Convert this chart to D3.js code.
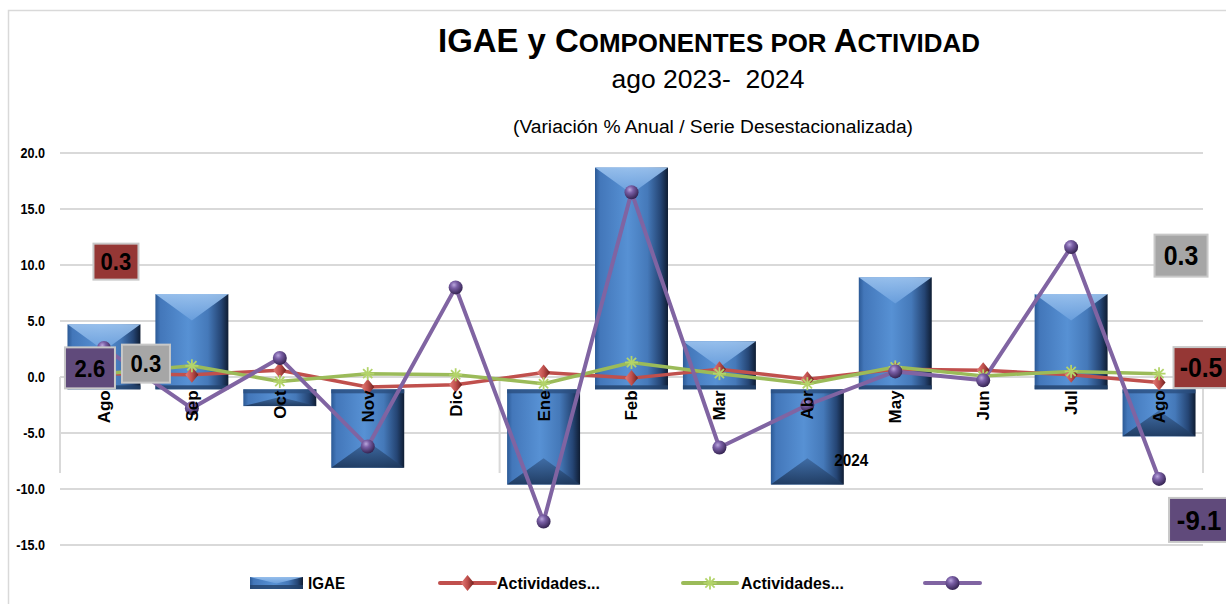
<!DOCTYPE html>
<html><head><meta charset="utf-8">
<script src="https://cdn.jsdelivr.net/npm/d3@7"></script>
<style>html,body{margin:0;padding:0;background:#fff;} svg{display:block;}</style>
</head><body><svg id="chart" width="1226" height="604"></svg>
<script>
// ---------------- DATA ----------------
const categories = ["Ago","Sep","Oct","Nov","Dic","Ene","Feb","Mar","Abr","May","Jun","Jul","Ago"];
const yearGroups = ["2023","2023","2023","2023","2023","2024","2024","2024","2024","2024","2024","2024","2024"];
const igae        = [4.7, 7.4, -2.6, -8.1, -1.1, -9.6, 18.7, 3.2, -9.6, 8.9, -1.1, 7.4, -5.3];
const actRed      = [0.3, 0.2, 0.6, -0.9, -0.7, 0.4, -0.1, 0.7, -0.2, 0.7, 0.6, 0.2, -0.5];
const actGreen    = [0.3, 1.0, -0.4, 0.3, 0.2, -0.6, 1.3, 0.3, -0.6, 0.9, 0.1, 0.5, 0.3];
const actPurple   = [2.6, -2.8, 1.7, -6.2, 8.0, -12.9, 16.5, -6.3, -2.5, 0.5, -0.3, 11.6, -9.1];
const yTicks      = [20, 15, 10, 5, 0, -5, -10, -15];
const axisCross   = -1.1;   // value where the category axis crosses
const legendNames = ["IGAE", "Actividades...", "Actividades...", ""];
const titleText   = "IGAE y Componentes por Actividad";
const subtitleText = "ago 2023-  2024";
const noteText    = "(Variación % Anual / Serie Desestacionalizada)";

// ---------------- SETUP ----------------
const FONT = "'Liberation Sans Narrow','Arial Narrow','Liberation Sans',sans-serif";
const svg = d3.select("#chart");
const defs = svg.append("defs");
const fmt = d3.formatLocale({decimal:".", thousands:",", grouping:[3], currency:["$",""], minus:"-"}).format(".1f");
function narrow(sel, f){
  sel.each(function(){
    const L = this.getComputedTextLength();
    if (L > 0) d3.select(this).attr("textLength", L*f).attr("lengthAdjust","spacingAndGlyphs");
  });
}

function linGrad(id, x2, y2, stops){
  const g = defs.append("linearGradient").attr("id", id).attr("x1",0).attr("y1",0).attr("x2",x2).attr("y2",y2);
  stops.forEach(s => g.append("stop").attr("offset", s[0]).attr("stop-color", s[1]));
}
linGrad("barBody", 1, 0, [[0,"#2c5a96"],[0.07,"#4377ba"],[0.45,"#5791d4"],[0.72,"#4579b9"],[0.9,"#254574"],[1,"#0f1d33"]]);
linGrad("barTop", 0, 1, [[0,"#9cc3ee"],[1,"#6a9fdd"]]);
linGrad("barBot", 0, 1, [[0,"#3e6aa2"],[1,"#1d375b"]]);
linGrad("diam", 1, 0, [[0,"#e47c77"],[0.5,"#c0504d"],[1,"#6e1f1d"]]);
const rg = defs.append("radialGradient").attr("id","sphere").attr("cx","0.38").attr("cy","0.32").attr("r","0.7");
[[0,"#b9a6dc"],[0.35,"#7a5fa6"],[1,"#33224f"]].forEach(s => rg.append("stop").attr("offset", s[0]).attr("stop-color", s[1]));

// chart border
svg.append("path").attr("d","M8.5,604 V10.5 H1226").attr("fill","none").attr("stroke","#d9d9d9").attr("stroke-width",1.5);

// ---------------- TITLES ----------------
const tt = svg.append("text").attr("x",709).attr("y",52).attr("text-anchor","middle")
  .attr("font-family",FONT).attr("font-weight","bold").attr("fill","#000")
  .attr("textLength",542).attr("lengthAdjust","spacingAndGlyphs");
// small caps rendering: capitals large, lowercase as smaller capitals
titleText.split(" ").forEach((w, wi, arr) => {
  const word = w + (wi < arr.length-1 ? " " : "");
  if (w === "IGAE" || w === "y") { tt.append("tspan").attr("font-size",33).text(word); return; }
  Array.from(word).forEach(ch => {
    const isUp = ch !== ch.toLowerCase();
    tt.append("tspan").attr("font-size", isUp ? 33 : 26).text(ch.toUpperCase());
  });
});
svg.append("text").attr("x",708).attr("y",88).attr("text-anchor","middle").style("white-space","pre")
  .attr("font-family",FONT).attr("font-size",25).attr("fill","#000")
  .attr("textLength",193).attr("lengthAdjust","spacingAndGlyphs").text(subtitleText);
svg.append("text").attr("x",713).attr("y",133).attr("text-anchor","middle")
  .attr("font-family",FONT).attr("font-size",18).attr("fill","#000")
  .attr("textLength",400).attr("lengthAdjust","spacingAndGlyphs").text(noteText);

// ---------------- SCALES ----------------
const x = d3.scaleBand().domain(d3.range(categories.length)).range([60,1203]).paddingInner(0.17).paddingOuter(0.085);
const y = d3.scaleLinear().domain([-15,20]).range([545,153]);
const cx = i => x(i) + x.bandwidth()/2;
const step = x.step();

// gridlines
svg.append("g").selectAll("line").data(yTicks).join("line")
  .attr("x1",60).attr("x2",1203).attr("y1",d=>y(d)).attr("y2",d=>y(d))
  .attr("stroke","#d9d9d9").attr("stroke-width",2);

// y axis labels
const ya = svg.append("g").attr("transform","translate(60,0)")
  .call(d3.axisLeft(y).tickValues(yTicks).tickFormat(fmt).tickSize(0).tickPadding(15));
ya.select(".domain").remove();
ya.selectAll("text").attr("font-family",FONT).attr("font-weight","bold").attr("font-size",15).attr("fill","#000");
narrow(ya.selectAll("text"), 0.84);

// year group dividers
const groupStarts = [0];
yearGroups.forEach((g,i)=>{ if(i>0 && g!==yearGroups[i-1]) groupStarts.push(i); });
groupStarts.push(categories.length);
svg.append("g").selectAll("line").data(groupStarts).join("line")
  .attr("x1",d=>60+d*step).attr("x2",d=>60+d*step).attr("y1",y(0)).attr("y2",473)
  .attr("stroke","#d9d9d9").attr("stroke-width",2);

// ---------------- BARS ----------------
const gb = svg.append("g");
const bw = x.bandwidth();
function drawBar(g, x0, top, w, h, positive){
  const x1 = x0 + w, bot = top + h;
  g.append("rect").attr("x",x0).attr("y",top).attr("width",w).attr("height",h).attr("fill","url(#barBody)");
  const d = Math.min(w*0.36, h*0.55);
  if (positive){
    g.append("path").attr("d",`M${x0},${top}L${x1},${top}L${x0+w/2},${top+d}Z`).attr("fill","url(#barTop)").attr("opacity",0.92);
    g.append("rect").attr("x",x0).attr("y",bot-Math.min(4,h/3)).attr("width",w).attr("height",Math.min(4,h/3)).attr("fill","#23426c").attr("opacity",0.8);
  } else {
    g.append("path").attr("d",`M${x0},${bot}L${x1},${bot}L${x0+w/2},${bot-d}Z`).attr("fill","url(#barBot)").attr("opacity",0.92);
    g.append("rect").attr("x",x0).attr("y",top).attr("width",w).attr("height",Math.min(4,h/3)).attr("fill","#2a4f80").attr("opacity",0.8);
  }
}
igae.forEach((v,i)=>{
  const y0 = y(v), yb = y(axisCross);
  const top = Math.min(y0,yb), h = Math.abs(y0-yb);
  if (h < 0.5) return;
  drawBar(gb, x(i), top, bw, h, v > axisCross);
});

// ---------------- LINES ----------------
const series = [
  {vals: actRed, color:"#c0504d", marker:"diamond", sw:3.5},
  {vals: actGreen, color:"#9bbb59", marker:"star", sw:3.5},
  {vals: actPurple, color:"#8064a2", marker:"sphere", sw:4}
];
const line = d3.line().x((d,i)=>cx(i)).y(d=>y(d));
series.forEach(s=>{
  svg.append("path").attr("d", line(s.vals)).attr("fill","none").attr("stroke",s.color)
    .attr("stroke-width",s.sw).attr("stroke-linejoin","round").attr("stroke-linecap","round");
});
function drawMarker(g, type, px, py){
  if (type==="diamond"){
    g.append("path").attr("d",`M${px},${py-8}L${px+6.5},${py}L${px},${py+8}L${px-6.5},${py}Z`).attr("fill","url(#diam)");
  } else if (type==="star"){
    const r = 6.5;
    [0,45,90,135].forEach(a=>{
      const rad = a*Math.PI/180, dx = r*Math.cos(rad), dy = r*Math.sin(rad);
      g.append("line").attr("x1",px-dx).attr("y1",py-dy).attr("x2",px+dx).attr("y2",py+dy)
        .attr("stroke","#b3d46a").attr("stroke-width",1.8);
    });
  } else {
    g.append("circle").attr("cx",px).attr("cy",py).attr("r",7).attr("fill","url(#sphere)");
  }
}
const gm = svg.append("g");
series.forEach(s=> s.vals.forEach((v,i)=> drawMarker(gm, s.marker, cx(i), y(v))));

// ---------------- CATEGORY LABELS ----------------
svg.append("g").selectAll("text").data(categories).join("text")
  .attr("transform",(d,i)=>`translate(${cx(i)},${y(axisCross)+1}) rotate(-90)`)
  .attr("text-anchor","end").attr("dy","0.35em")
  .attr("font-family",FONT).attr("font-weight","bold").attr("font-size",17).attr("fill","#000")
  .text(d=>d);
// year label (only 2024 shown)
const g24 = groupStarts[1];
const yl = svg.append("text").attr("x",(60+g24*step+1203)/2).attr("y",466).attr("text-anchor","middle")
  .attr("font-family",FONT).attr("font-weight","bold").attr("font-size",17).attr("fill","#000")
  .text(yearGroups[g24]);
narrow(yl, 0.9);

// ---------------- DATA LABELS ----------------
const last = categories.length-1;
const dataLabels = [
  {vals: actRed,    i:0,    fill:"#953735", dx:12,  dy:-112, w:45, h:36, fs:24},
  {vals: actPurple, i:0,    fill:"#604a7b", dx:-14, dy:20,   w:50, h:41, fs:24},
  {vals: actGreen,  i:0,    fill:"#a6a6a6", dx:42,  dy:-10,  w:48, h:38, fs:24},
  {vals: actGreen,  i:last, fill:"#a6a6a6", dx:22,  dy:-118, w:53, h:42, fs:27},
  {vals: actRed,    i:last, fill:"#953735", dx:42,  dy:-15,  w:55, h:41, fs:27},
  {vals: actPurple, i:last, fill:"#604a7b", dx:40,  dy:41,   w:60, h:44, fs:28}
];
const gl = svg.append("g");
dataLabels.forEach(l=>{
  const px = cx(l.i) + l.dx, py = y(l.vals[l.i]) + l.dy;
  gl.append("rect").attr("x",px-l.w/2).attr("y",py-l.h/2).attr("width",l.w).attr("height",l.h)
    .attr("fill",l.fill).attr("stroke","#c8c8c8").attr("stroke-width",2);
  const t = gl.append("text").attr("x",px).attr("y",py).attr("dy","0.36em").attr("text-anchor","middle")
    .attr("font-family",FONT).attr("font-weight","bold").attr("font-size",l.fs).attr("fill","#000")
    .text(fmt(l.vals[l.i]));
  narrow(t, 0.92);
});

// ---------------- LEGEND ----------------
const lg = svg.append("g");
const ly = 583;
drawBar(lg, 250, 577, 53, 12, true);
const legendItems = [
  {type:"bar", text:legendNames[0], tx:308, tl:37},
  {type:"diamond", color:"#c0504d", x1:440, x2:495, text:legendNames[1], tx:497, tl:103},
  {type:"star", color:"#9bbb59", x1:683, x2:737, text:legendNames[2], tx:741, tl:103},
  {type:"sphere", color:"#8064a2", x1:925, x2:980, text:legendNames[3], tx:984, tl:0}
];
legendItems.forEach(it=>{
  if (it.type!=="bar"){
    lg.append("line").attr("x1",it.x1).attr("x2",it.x2).attr("y1",ly).attr("y2",ly)
      .attr("stroke",it.color).attr("stroke-width",4).attr("stroke-linecap","round");
    drawMarker(lg, it.type, (it.x1+it.x2)/2, ly);
  }
  if (it.text){
    lg.append("text").attr("x",it.tx).attr("y",ly).attr("dy","0.35em")
      .attr("font-family",FONT).attr("font-weight","bold").attr("font-size",17).attr("fill","#000")
      .attr("textLength",it.tl).attr("lengthAdjust","spacingAndGlyphs").text(it.text);
  }
});
</script></body></html>
